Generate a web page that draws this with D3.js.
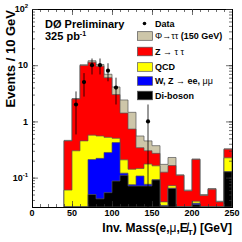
<!DOCTYPE html>
<html><head><meta charset="utf-8">
<script src="https://cdn.jsdelivr.net/npm/d3@7/dist/d3.min.js"></script>
<style>
body{margin:0;background:#fff}
text{font-family:"Liberation Sans",Arial,Helvetica,sans-serif;font-weight:bold;fill:#000}
</style>
</head><body><script>
// bins are 10 GeV wide, lower edges
var binLow = [40,50,60,70,80,90,100,110,120,130,140,150,160,170,180,190,200,210,220,230,240];
var diboson = [0,0,0,0.05,0.042,0.054,0.087,0.11,0.071,0.071,0.071,0.091,0.031,0.064,0,0,0.033,0,0,0,0.127];
var wzll    = [0,0,0,0.16,0.178,0.226,0.333,0.01,0.004,0.036,0.005,0.001,0.001,0.001,0,0,0.002,0,0,0,0];
var qcd     = [0.06,0.30,0.45,0.36,0.33,0.24,0.08,0.087,0.066,0.038,0.098,0.07,0.005,0.007,0,0,0.003,0,0,0,0.098];
var ztt     = [0.39,2.2,9.45,10.73,9.05,5.48,2.5,1.2,0.59,0.195,0.126,0.108,0.088,0.092,0.11,0.058,0.172,0.048,0.062,0.037,0.095];
var phi     = [0.01,0.05,0.3,0.7,0.7,0.9,1.1,1.0,0.72,0.21,0.15,0.10,0.047,0.064,0.002,0.002,0.005,0.002,0.002,0.001,0.005];

var dataMass = [55,65,75,85,95,105,145];
var dataCounts = [2,5,10,10,8,4,1];

var xTicks = [0,50,100,150,200,250];
var yTicks = [0.1,1,10,100];
var yTickText = [["10","-1"],["1",""],["10",""],["10","2"]];

var keys = ['diboson','wzll','qcd','ztt','phi'];
var colors = {diboson:'#000000', wzll:'#0000ff', qcd:'#ffff00', ztt:'#ff0000', phi:'#cdc6a9'};

var svg = d3.select('body').append('svg')
   .attr('width', 242)
   .attr('height', 242);

var x = d3.scaleLinear().domain([0,250]).range([32,232]);
var y = d3.scaleLog().domain([0.03,100]).range([207,9]).clamp(true);

var rows = binLow.map(function(b, i) {
  return {lo: b, diboson: diboson[i], wzll: wzll[i], qcd: qcd[i], ztt: ztt[i], phi: phi[i]};
});
var series = d3.stack().keys(keys)(rows);

var area = d3.area()
   .curve(d3.curveStepAfter)
   .x(function(d) { return x(d.lo); })
   .y0(y.range()[0])
   .y1(function(d) { return d.v > 0 ? y(d.v) : y.range()[0]; });

// draw the biggest stack first, smaller ones on top
series.slice().reverse().forEach(function(s) {
  var pts = s.map(function(d) { return {lo: d.data.lo, v: d[1]}; });
  var last = pts[pts.length - 1];
  pts.push({lo: last.lo + 10, v: last.v});
  svg.append('path')
     .attr('d', area(pts))
     .attr('fill', colors[s.key])
     .attr('stroke', '#555')
     .attr('stroke-width', 0.7);
});

// data with sqrt(N) errors
var pts = svg.selectAll('g.data')
   .data(dataMass.map(function(m, i) { return {m: m, n: dataCounts[i]}; }))
   .enter().append('g').attr('class', 'data');
pts.append('line')
   .attr('x1', function(d) { return x(d.m); })
   .attr('x2', function(d) { return x(d.m); })
   .attr('y1', function(d) { return y(d.n + Math.sqrt(d.n)); })
   .attr('y2', function(d) { var lo = d.n - Math.sqrt(d.n); return lo > 0 ? y(lo) : y.range()[0]; })
   .attr('stroke', '#000')
   .attr('stroke-width', 0.8);
pts.append('circle')
   .attr('cx', function(d) { return x(d.m); })
   .attr('cy', function(d) { return y(d.n); })
   .attr('r', 2.1)
   .attr('fill', '#000');

// frame + ticks
var minorX = d3.range(0, 251, 10);
var logTicks = y.ticks();
function axis(gen, scale, vals, size, tr) {
  svg.append('g').attr('transform', tr)
     .call(gen(scale).tickValues(vals).tickSize(size).tickFormat(''))
     .call(function(g) {
        g.selectAll('path').attr('stroke', '#000').attr('stroke-width', 1);
        g.selectAll('line').attr('stroke', '#333').attr('stroke-width', 0.7);
     });
}
axis(d3.axisBottom, x, minorX, -3, 'translate(0,207)');
axis(d3.axisBottom, x, xTicks, -6, 'translate(0,207)');
axis(d3.axisTop, x, minorX, -3, 'translate(0,9)');
axis(d3.axisTop, x, xTicks, -6, 'translate(0,9)');
axis(d3.axisLeft, y, logTicks, -3, 'translate(32,0)');
axis(d3.axisLeft, y, yTicks, -6, 'translate(32,0)');
axis(d3.axisRight, y, logTicks, -3, 'translate(232,0)');
axis(d3.axisRight, y, yTicks, -6, 'translate(232,0)');

// tick labels
svg.selectAll('text.xt').data(xTicks).enter().append('text')
   .attr('class', 'xt')
   .attr('x', function(d) { return x(d); })
   .attr('y', 216)
   .attr('text-anchor', 'middle')
   .attr('font-size', 9)
   .text(function(d) { return d; });

yTicks.forEach(function(v, i) {
  var t = svg.append('text')
     .attr('x', 28)
     .attr('y', y(v) + 3.2)
     .attr('text-anchor', 'end')
     .attr('font-size', 9);
  t.append('tspan').text(yTickText[i][0]);
  if (yTickText[i][1])
    t.append('tspan').attr('font-size', 6).attr('dy', -4).text(yTickText[i][1]);
});

// axis titles
svg.append('text')
   .attr('transform', 'translate(14.5,10) rotate(-90)')
   .attr('text-anchor', 'end')
   .attr('font-size', 13)
   .text('Events / 10 GeV');

var xl = svg.append('text')
   .attr('x', 232)
   .attr('y', 232)
   .attr('text-anchor', 'end')
   .attr('font-size', 12);
xl.append('tspan').text('Inv. Mass(e,');
xl.append('tspan').attr('font-weight', 'normal').text('\u03bc');
xl.append('tspan').text(',E\u0338');
xl.append('tspan').attr('font-size', 8).attr('dy', 3).text('T');
xl.append('tspan').attr('dy', -3).text(') [GeV]');

// experiment labels
svg.append('text').attr('x', 45).attr('y', 27.5).attr('font-size', 11).text('D\u00d8 Preliminary');
var lum = svg.append('text').attr('x', 45).attr('y', 40).attr('font-size', 11);
lum.append('tspan').text('325 pb');
lum.append('tspan').attr('font-size', 7).attr('dy', -4).text('-1');

// legend
var legKeys = ['data','phi','ztt','qcd','wzll','diboson'];
var legY = [23.5,36,51.5,67,81,95.5];
var legText = [
  [['Data','bold']],
  [['\u03a6\u2192\u03c4\u03c4 ','normal'],['(150 GeV)','bold']],
  [['Z ','bold'],['\u2192 \u03c4 \u03c4','normal']],
  [['QCD','bold']],
  [['W, Z ','bold'],['\u2192 ','normal'],['ee, ','bold'],['\u03bc\u03bc','normal']],
  [['Di-boson','bold']]
];
legKeys.forEach(function(k, i) {
  if (k == 'data') {
    svg.append('circle').attr('cx', 144.5).attr('cy', legY[i]).attr('r', 1.8).attr('fill', '#000');
  } else {
    svg.append('rect')
       .attr('x', 137.5).attr('y', legY[i] - 4.3)
       .attr('width', 15).attr('height', 8.6)
       .attr('fill', colors[k])
       .attr('stroke', '#555').attr('stroke-width', 0.7);
  }
  var t = svg.append('text').attr('x', 155).attr('y', legY[i] + 3.2).attr('font-size', 9);
  legText[i].forEach(function(p) {
    t.append('tspan').attr('font-weight', p[1]).text(p[0]);
  });
});
</script></body></html>
